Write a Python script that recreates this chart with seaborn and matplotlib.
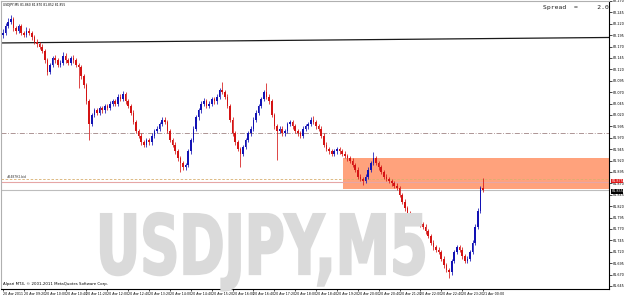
import matplotlib
matplotlib.use("Agg")
import matplotlib.pyplot as plt
import seaborn as sns
import numpy as np
import pandas as pd
from matplotlib.textpath import TextPath
from matplotlib.patches import PathPatch, Rectangle
from matplotlib.font_manager import FontProperties
from matplotlib.transforms import Affine2D, IdentityTransform

# ---------------- data ----------------
opens = [82.195,82.200,82.215,82.225,82.230,82.210,82.205,82.215,82.200,82.195,
82.205,82.200,82.190,82.180,82.175,82.170,82.160,82.140,82.115,82.130,
82.145,82.140,82.130,82.135,82.150,82.140,82.135,82.145,82.140,82.130,
82.125,82.105,82.085,82.050,82.000,82.020,82.030,82.025,82.035,82.030,
82.040,82.035,82.045,82.050,82.045,82.060,82.055,82.065,82.050,82.040,
82.025,82.005,81.985,81.975,81.960,81.955,81.965,81.960,81.975,81.985,
81.990,82.000,82.010,82.005,81.985,81.965,81.955,81.940,81.925,81.915,
81.905,81.910,81.940,81.965,81.990,82.015,82.030,82.045,82.050,82.040,
82.045,82.055,82.050,82.060,82.075,82.070,82.060,82.040,82.010,81.980,
81.960,81.945,81.935,81.950,81.965,81.980,81.990,82.010,82.025,82.040,
82.055,82.070,82.060,82.050,82.020,81.995,81.985,81.990,81.980,81.985,
82.000,82.005,81.995,81.985,81.980,81.975,81.990,81.995,82.000,82.010,
82.005,81.995,81.990,81.975,81.955,81.945,81.940,81.935,81.940,81.945,
81.940,81.935,81.930,81.925,81.920,81.910,81.900,81.885,81.880,81.875,
81.885,81.900,81.915,81.925,81.915,81.905,81.895,81.885,81.880,81.875,
81.870,81.865,81.860,81.845,81.830,81.815,81.805,81.800,81.795,81.790,
81.785,81.780,81.775,81.765,81.755,81.740,81.730,81.725,81.720,81.705,
81.690,81.680,81.675,81.700,81.720,81.730,81.725,81.710,81.700,81.705,
81.720,81.740,81.775,81.810,81.860]
closes = [82.200,82.215,82.225,82.230,82.210,82.205,82.215,82.200,82.195,82.205,
82.200,82.190,82.180,82.175,82.170,82.160,82.140,82.115,82.130,82.145,
82.140,82.130,82.135,82.150,82.140,82.135,82.145,82.140,82.130,82.125,
82.105,82.085,82.050,82.000,82.020,82.030,82.025,82.035,82.030,82.040,
82.035,82.045,82.050,82.045,82.060,82.055,82.065,82.050,82.040,82.025,
82.005,81.985,81.975,81.960,81.955,81.965,81.960,81.975,81.985,81.990,
82.000,82.010,82.005,81.985,81.965,81.955,81.940,81.925,81.915,81.905,
81.910,81.940,81.965,81.990,82.015,82.030,82.045,82.050,82.040,82.045,
82.055,82.050,82.060,82.075,82.070,82.060,82.040,82.010,81.980,81.960,
81.945,81.935,81.950,81.965,81.980,81.990,82.010,82.025,82.040,82.055,
82.070,82.060,82.050,82.020,81.995,81.985,81.990,81.980,81.985,82.000,
82.005,81.995,81.985,81.980,81.975,81.990,81.995,82.000,82.010,82.005,
81.995,81.990,81.975,81.955,81.945,81.940,81.935,81.940,81.945,81.940,
81.935,81.930,81.925,81.920,81.910,81.900,81.885,81.880,81.875,81.885,
81.900,81.915,81.925,81.915,81.905,81.895,81.885,81.880,81.875,81.870,
81.865,81.860,81.845,81.830,81.815,81.805,81.800,81.795,81.790,81.785,
81.780,81.775,81.765,81.755,81.740,81.730,81.725,81.720,81.705,81.690,
81.680,81.675,81.700,81.720,81.730,81.725,81.710,81.700,81.705,81.720,
81.740,81.775,81.810,81.860,81.855]
highs = [82.208,82.222,82.232,82.240,82.236,82.215,82.220,82.220,82.205,82.212,
82.210,82.205,82.195,82.186,82.180,82.175,82.165,82.145,82.135,82.150,
82.152,82.145,82.140,82.158,82.155,82.145,82.150,82.152,82.145,82.135,
82.130,82.110,82.090,82.055,82.025,82.035,82.035,82.040,82.040,82.045,
82.045,82.050,82.055,82.055,82.065,82.065,82.072,82.070,82.055,82.045,
82.030,82.010,81.990,81.980,81.965,81.970,81.970,81.980,81.990,81.995,
82.005,82.015,82.015,82.010,81.990,81.970,81.960,81.945,81.930,81.920,
81.915,81.945,81.970,81.995,82.020,82.035,82.050,82.058,82.055,82.050,
82.060,82.060,82.065,82.080,82.092,82.075,82.065,82.045,82.015,81.985,
81.965,81.950,81.955,81.970,81.985,81.995,82.015,82.030,82.045,82.060,
82.075,82.090,82.065,82.055,82.025,82.000,81.995,81.995,81.990,82.005,
82.010,82.010,82.000,81.990,81.985,81.995,82.000,82.005,82.015,82.018,
82.010,82.000,81.995,81.980,81.960,81.950,81.945,81.945,81.950,81.950,
81.945,81.940,81.935,81.930,81.925,81.915,81.905,81.890,81.885,81.890,
81.905,81.920,81.939,81.930,81.920,81.910,81.900,81.890,81.885,81.880,
81.875,81.870,81.865,81.850,81.835,81.820,81.810,81.805,81.800,81.795,
81.790,81.785,81.780,81.770,81.760,81.745,81.735,81.730,81.725,81.710,
81.695,81.685,81.705,81.725,81.735,81.735,81.730,81.715,81.710,81.725,
81.745,81.780,81.815,81.865,81.882]
lows = [82.188,82.195,82.210,82.220,82.205,82.198,82.200,82.195,82.190,82.190,
82.195,82.185,82.175,82.170,82.165,82.155,82.135,82.108,82.110,82.125,
82.135,82.125,82.125,82.130,82.135,82.130,82.130,82.135,82.125,82.080,
82.100,82.080,82.045,81.965,81.995,82.015,82.020,82.020,82.025,82.025,
82.030,82.030,82.040,82.040,82.040,82.050,82.050,82.045,82.035,82.020,
82.000,81.980,81.970,81.955,81.950,81.950,81.955,81.955,81.970,81.980,
81.985,81.995,82.000,81.980,81.960,81.950,81.935,81.920,81.895,81.900,
81.900,81.905,81.935,81.960,81.985,82.010,82.025,82.040,82.035,82.035,
82.040,82.045,82.045,82.055,82.065,82.055,82.035,82.005,81.975,81.955,
81.940,81.906,81.930,81.945,81.960,81.975,81.985,82.005,82.020,82.035,
82.050,82.055,82.045,82.015,81.990,81.921,81.980,81.975,81.975,81.980,
81.995,81.990,81.980,81.975,81.970,81.970,81.985,81.990,81.995,82.000,
81.990,81.985,81.970,81.950,81.940,81.935,81.930,81.930,81.935,81.935,
81.930,81.925,81.920,81.915,81.905,81.895,81.880,81.875,81.866,81.870,
81.880,81.895,81.910,81.910,81.900,81.890,81.880,81.875,81.870,81.865,
81.860,81.855,81.840,81.825,81.810,81.800,81.795,81.790,81.785,81.780,
81.775,81.770,81.760,81.750,81.735,81.725,81.720,81.715,81.700,81.685,
81.675,81.662,81.670,81.695,81.715,81.720,81.705,81.695,81.695,81.700,
81.715,81.735,81.770,81.805,81.852]

price_ticks = [82.270,82.245,82.220,82.195,82.170,82.145,82.120,82.095,82.070,82.045,
               82.020,81.995,81.970,81.945,81.920,81.895,81.870,81.845,81.820,81.795,
               81.770,81.745,81.720,81.695,81.670,81.645]
time_labels = ["20 Apr 2011","20 Apr 09:20","20 Apr 10:00","20 Apr 10:40","20 Apr 11:20",
               "20 Apr 12:00","20 Apr 12:40","20 Apr 13:20","20 Apr 14:00","20 Apr 14:40",
               "20 Apr 15:20","20 Apr 16:00","20 Apr 16:40","20 Apr 17:20","20 Apr 18:00",
               "20 Apr 18:40","20 Apr 19:20","20 Apr 20:00","20 Apr 20:40","20 Apr 21:20",
               "20 Apr 22:00","20 Apr 22:40","20 Apr 23:20","21 Apr 00:00"]
bars_per_label = 8

trend_prices = [82.178, 82.190]          # trend line, left edge -> right edge
level_dashdot = 81.981
level_dash = 81.8786
level_pink = 81.873
bid_price = 81.855
zone_low, zone_high = 81.858, 81.9255
zone_start_bar = 130.3
title_text = "USDJPY,M5 81.860 81.870 81.852 81.855"
line_label = "#5487H2.bid"
red_label = "81.875"
bid_label = "81.855"

df = pd.DataFrame({"open": opens, "high": highs, "low": lows, "close": closes})
df["bar"] = np.arange(len(df))
df["dir"] = np.where(df["close"] >= df["open"], "up", "down")

# ---------------- figure ----------------
sns.set_theme(style="white")
plt.rcParams['font.family'] = ['DejaVu Sans']

W, H = 625, 295
fig = plt.figure(figsize=(W/100, H/100), dpi=100)
ax = fig.add_axes([1/W, 6/H, 608/W, 288/H])
ax.set_facecolor("white")

xmin, xmax = -0.77, 232.3
ymin, ymax = 81.6384, 82.2700
ax.set_xlim(xmin, xmax)
ax.set_ylim(ymin, ymax)

BLUE = "#1212b4"
RED = "#d41414"
pal = {"up": BLUE, "down": RED}

# zone rectangle
ax.add_patch(Rectangle((zone_start_bar, zone_low), xmax - zone_start_bar, zone_high - zone_low,
                       facecolor="#FFA27C", edgecolor="none", zorder=1))

# watermark
fp = FontProperties(family="DejaVu Sans", weight="bold")
tp = TextPath((0, 0), "USDJPY,M5", size=1, prop=fp)
ext = tp.get_extents()
x0p, x1p = 101, 424
top_px, base_px = 213, 274
sx = (x1p - x0p) / (ext.x1 - ext.x0)
sy = (base_px - top_px) / ext.y1
tr = Affine2D().translate(-ext.x0, 0).scale(sx, sy).translate(x0p, H - base_px)
fig.patches.append(PathPatch(tp, transform=tr + IdentityTransform(), facecolor="#dadada",
                             edgecolor="#dadada", linewidth=1.6, zorder=0.5))

# horizontal lines
ax.plot([xmin, xmax], trend_prices, color="#1a1a1a", lw=0.9, zorder=2)
ax.axhline(level_dashdot, color="#a08484", lw=0.6, ls=(0, (6, 2, 1, 2)), zorder=2)
ax.axhline(level_dash, color="#d8b070", lw=0.6, ls=(0, (3, 2)), zorder=2)
ax.axhline(level_pink, color="#e6a6a6", lw=0.8, zorder=2)
ax.axhline(bid_price, color="#bdbdbd", lw=0.8, zorder=2)

# candles: wicks and bodies
for d, g in df.groupby("dir"):
    ax.vlines(g["bar"], g["low"], g["high"], color=pal[d], lw=0.55, zorder=3)
    h = (g["close"] - g["open"]).where(lambda s: s.abs() > 0.0008, 0.0008)
    ax.bar(g["bar"], h, bottom=g["open"], width=0.62, color=pal[d], linewidth=0, zorder=4)

# spines
for s in ["left", "top"]:
    ax.spines[s].set_color("#b0b0b0"); ax.spines[s].set_linewidth(0.8)
for s in ["right", "bottom"]:
    ax.spines[s].set_color("#000000"); ax.spines[s].set_linewidth(0.8)

# ticks
ax.yaxis.tick_right()
ax.set_yticks(price_ticks)
ax.set_yticklabels([f"{p:.3f}" for p in price_ticks])
ax.tick_params(axis="y", right=True, length=2, width=0.5, pad=1.0, labelsize=2.4, colors="#000000")
xt = [i * bars_per_label for i in range(len(time_labels))]
ax.set_xticks(xt)
ax.set_xticklabels(time_labels, ha="left")
ax.tick_params(axis="x", bottom=True, length=1.5, width=0.5, pad=0.8, labelsize=2.3, colors="#000000")
ax.grid(False)

# texts
ax.text(2/608, 1 - 4/288, title_text, transform=ax.transAxes, fontsize=2.2,
        va="center", ha="left", color="#000000")
fig.text(543/W, 1 - 7/H, "Spread  =     2.0", family="DejaVu Sans Mono", fontsize=4.6,
         va="center", ha="left", color="#202020")
ax.text(2/608, 3/288, "Alpari MT4, \u00a9 2001-2011 MetaQuotes Software Corp.", transform=ax.transAxes,
        fontsize=2.8, va="bottom", ha="left", color="#000000")
ax.text(1.5, level_dash + 0.0015, line_label, fontsize=2.2, va="bottom", ha="left", color="#303030")

# price labels on the right axis
ax.text(1.004, (level_pink - ymin) / (ymax - ymin) + 0.004, red_label, transform=ax.transAxes,
        fontsize=2.4, color="white", va="center", ha="left", clip_on=False,
        bbox=dict(boxstyle="square,pad=0.08", fc="#e01818", ec="none"))
ax.text(1.004, (bid_price - ymin) / (ymax - ymin) - 0.004, bid_label, transform=ax.transAxes,
        fontsize=2.4, color="white", va="center", ha="left", clip_on=False,
        bbox=dict(boxstyle="square,pad=0.08", fc="#000000", ec="none"))

fig.savefig("out.png", dpi=100, facecolor="white")
